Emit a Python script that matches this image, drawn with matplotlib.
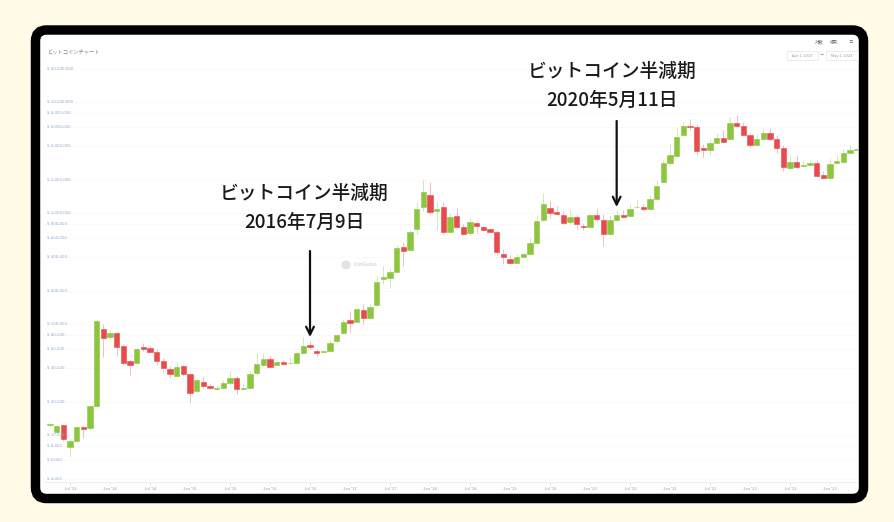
import numpy as np
import pandas as pd
import matplotlib
matplotlib.use("Agg")
import matplotlib.pyplot as plt
from matplotlib.patches import FancyBboxPatch, Circle
from matplotlib.ticker import NullLocator

plt.rcParams['font.family'] = ['Noto Sans CJK JP', 'DejaVu Sans']

# Monthly BTC/JPY candles, Apr 2013 - May 2023
months = pd.date_range("2013-04-01", periods=122, freq="MS")

opens = [12400, 10710, 12300, 7850, 8890, 11880, 11480, 18250, 89600, 76900,
         82400, 63400, 46400, 44260, 61650, 60400, 56300, 46400, 39100, 34030,
         41860, 35460, 25060, 30200, 27630, 26000, 26330, 29580, 32420, 25960,
         26330, 36400, 42740, 48400, 42740, 45500, 44260, 44850, 55200, 64700,
         57100, 55500, 57500, 70800, 82400, 108700, 105000, 133700, 112500, 148300,
         254300, 257800, 296000, 497500, 464000, 712900, 1140000, 1453000, 1049000, 1125000,
         679000, 940000, 753000, 654000, 807000, 743000, 713000, 679000, 427000, 383000,
         357000, 399000, 427000, 540000, 865000, 1102000, 1028000, 960000, 835000, 927000,
         769000, 753000, 960000, 865000, 647000, 865000, 960000, 940000, 1125000, 1140000,
         1080000, 1328000, 1915000, 2799000, 3264000, 5050000, 6081000, 5912000, 3828000, 3697000,
         4306000, 4776000, 4613000, 6513000, 6081000, 5050000, 4100000, 4613000, 5222000, 4613000,
         3828000, 2522000, 2898000, 2667000, 2705000, 2838000, 2199000, 2052000, 2799000, 2898000,
         3494000, 3697000]

closes = [12560, 12050, 9150, 8890, 11880, 11400, 18250, 107000, 74300, 82400,
          62500, 44850, 42740, 59100, 59930, 56300, 46740, 39900, 35460, 41270,
          35460, 24060, 31280, 27630, 26330, 26500, 29580, 32420, 25960, 26400,
          35240, 43330, 48080, 41270, 45800, 43950, 44850, 54450, 63400, 61650,
          55200, 57000, 67900, 79600, 105000, 102800, 135600, 112500, 141300, 240600,
          263300, 292000, 487300, 458000, 679000, 1087000, 1557000, 1028000, 1080000, 679000,
          926000, 753000, 647000, 835000, 764000, 703000, 679000, 448000, 399000, 357000,
          399000, 427000, 540000, 853000, 1205000, 993000, 979000, 818000, 927000, 796000,
          753000, 960000, 877000, 647000, 865000, 960000, 927000, 1080000, 1140000, 1080000,
          1328000, 1749000, 2799000, 3336000, 4808000, 6081000, 5912000, 3641000, 3697000, 4306000,
          4776000, 4395000, 6513000, 6081000, 5050000, 4100000, 4613000, 5294000, 4613000, 3828000,
          2578000, 2898000, 2578000, 2705000, 2838000, 2155000, 2052000, 2762000, 2959000, 3452000,
          3697000, 3760000]

highs = [12900, 12300, 12500, 9300, 12100, 12100, 18600, 110000, 101000, 88000,
         84000, 66000, 48500, 61000, 67000, 63000, 60000, 49000, 42000, 45000,
         43000, 36500, 32500, 34000, 29500, 28000, 31000, 38000, 34000, 29000,
         38000, 55000, 55000, 51000, 47500, 47000, 50500, 57000, 76000, 70000,
         60000, 58500, 70000, 82000, 110000, 130000, 140000, 150000, 150000, 270000,
         330000, 320000, 510000, 550000, 700000, 1250000, 1983000, 1915000, 1250000, 1250000,
         1000000, 1100000, 790000, 900000, 850000, 770000, 740000, 700000, 470000, 420000,
         430000, 440000, 600000, 950000, 1500000, 1300000, 1150000, 1050000, 1070000, 960000,
         810000, 1000000, 1120000, 980000, 960000, 1060000, 1060000, 1200000, 1310000, 1200000,
         1440000, 2000000, 3000000, 4300000, 6000000, 6600000, 7000000, 6300000, 4200000, 4500000,
         5300000, 5600000, 7300000, 7600000, 6600000, 5300000, 5200000, 5800000, 5800000, 5000000,
         4100000, 3300000, 3300000, 3000000, 3000000, 3000000, 2400000, 3100000, 3300000, 3800000,
         4100000, 3800000]

lows = [12100, 10400, 8900, 6380, 8700, 9340, 11200, 18000, 50800, 74000,
        52600, 43000, 34750, 43500, 57000, 55000, 43000, 37000, 32500, 33000,
        34000, 19290, 24500, 26500, 25800, 25500, 26000, 29000, 23500, 25500,
        25800, 35000, 42000, 40000, 41500, 43000, 43500, 44000, 54000, 60000,
        51000, 54500, 57000, 69000, 81000, 85000, 104000, 100000, 111000, 146000,
        230000, 210000, 290000, 330000, 460000, 650000, 1050000, 980000, 700000, 650000,
        660000, 730000, 630000, 640000, 660000, 690000, 670000, 420000, 350000, 350000,
        350000, 395000, 420000, 530000, 850000, 900000, 950000, 800000, 800000, 720000,
        700000, 750000, 850000, 504000, 640000, 850000, 900000, 930000, 1100000, 1050000,
        1070000, 1320000, 1850000, 2700000, 3200000, 4900000, 5600000, 3300000, 3200000, 3300000,
        4300000, 4300000, 4600000, 6000000, 4900000, 3900000, 4000000, 4500000, 4500000, 3500000,
        2400000, 2450000, 2550000, 2600000, 2650000, 2100000, 2020000, 2040000, 2750000, 2850000,
        3450000, 3650000]

y_ticks = [4000, 6000, 8000, 10000, 20000, 40000, 60000, 80000, 100000,
           200000, 400000, 600000, 800000, 1000000, 2000000, 4000000,
           6000000, 8000000, 10000000, 20000000]

halvings = [("2016-07-01", "ビットコイン半減期", "2016年7月9日"),
            ("2020-05-01", "ビットコイン半減期", "2020年5月11日")]

GREEN = "#8cc63f"
RED = "#e84a4d"

# ---- layout helpers (pixel -> figure) ----
W, H = 894, 522
fig = plt.figure(figsize=(W / 100, H / 100), dpi=100)
fig.patch.set_facecolor("#fffbe6")

def fx(x):
    return x / W

def fy(y):
    return 1 - y / H

# black rounded frame with white panel
frame = FancyBboxPatch((35.5 / 100, (H - 498.5) / 100), (863.5 - 35.5) / 100, (498.5 - 30) / 100,
                       boxstyle="round,pad=0,rounding_size=0.11",
                       transform=fig.dpi_scale_trans, facecolor="white",
                       edgecolor="black", linewidth=6.8, zorder=-5)
fig.add_artist(frame)

ax = fig.add_axes([fx(44), fy(482), fx(858) - fx(44), fy(40) - fy(482)])
ax.set_facecolor("none")

x = np.arange(len(months))
o = np.array(opens, dtype=float)
c = np.array(closes, dtype=float)
hi = np.array(highs, dtype=float)
lo = np.array(lows, dtype=float)
up = c >= o
cols = np.where(up, GREEN, RED)
wick_cols = np.where(up, "#d3e8b6", "#f5bcbd")

ax.vlines(x, lo, hi, colors=wick_cols, linewidth=0.7, zorder=2)
ax.bar(x, np.abs(c - o), bottom=np.minimum(o, c), width=0.82,
       color=cols, edgecolor=cols, linewidth=0.4, zorder=3)

ax.set_yscale("log")
ax.set_xlim(-0.9, 121.2)
ax.set_ylim(10 ** (6 + (213 - 482) / 111), 10 ** (6 + (213 - 40) / 111))

# y grid + labels inside plot
ax.set_yticks(y_ticks)
ax.yaxis.set_minor_locator(NullLocator())
ax.tick_params(axis="y", length=0, labelleft=False)
ax.grid(axis="y", color="#f7f7f7", linewidth=0.5, zorder=0)
for v in y_ticks:
    ax.text(0.004, v, "¥ {:,}".format(v), transform=ax.get_yaxis_transform(),
            fontsize=2.8, color="#93acd0", va="center", ha="left", family="DejaVu Sans")

# x ticks at Jan / Jul
tick_pos = [i for i, m in enumerate(months) if m.month in (1, 7)]
tick_lab = [m.strftime("%b '%y") for m in months if m.month in (1, 7)]
ax.set_xticks(tick_pos)
ax.set_xticklabels(tick_lab)
ax.tick_params(axis="x", length=2, width=0.4, color="#d0d0d0", pad=1.5,
               labelsize=3, labelcolor="#999999")
for s in ["top", "right", "left"]:
    ax.spines[s].set_visible(False)
ax.spines["bottom"].set_color("#e6e6e6")
ax.spines["bottom"].set_linewidth(0.5)

# halving annotations
text_x = [304, 612]
text_y = [193, 71]
for (d, l1, l2), tx, ty in zip(halvings, text_x, text_y):
    i = months.get_loc(pd.Timestamp(d))
    tip = max(opens[i], closes[i]) * 1.18
    ax.annotate("", xy=(i, tip), xytext=(i, tip * 10 ** (86 / 111)),
                arrowprops=dict(arrowstyle="->", lw=1.6, color="#111111",
                                shrinkA=0, shrinkB=0, mutation_scale=14), zorder=5)
    fig.text(fx(tx), fy(ty), l1, fontsize=13.5, fontweight="medium", color="#1a1a1a",
             ha="center", va="center")
    fig.text(fx(tx), fy(ty + 29), l2, fontsize=13.5, fontweight="medium", color="#1a1a1a",
             ha="center", va="center")

# chart chrome: title, controls, watermark
fig.text(fx(47), fy(53), "ビットコインチャート", fontsize=3.8, color="#888888", va="center")
for lab, px in [("対数", 819), ("線形", 834), ("≡", 851)]:
    fig.text(fx(px), fy(42), lab, fontsize=3.2, color="#666666", ha="center", va="center")
for lab, px0, px1 in [("Apr 1, 2013", 787, 818), ("May 1, 2023", 826, 858)]:
    fig.add_artist(FancyBboxPatch((px0 / 100, (H - 60) / 100), (px1 - px0) / 100, 9 / 100,
                                  boxstyle="square,pad=0", transform=fig.dpi_scale_trans,
                                  facecolor="white", edgecolor="#dddddd", linewidth=0.4))
    fig.text(fx((px0 + px1) / 2), fy(55.5), lab, fontsize=2.8, color="#999999",
             ha="center", va="center")
fig.text(fx(822), fy(55.5), "→", fontsize=2.8, color="#999999", ha="center", va="center")

fig.add_artist(Circle((346 / 100, (H - 265) / 100), 0.045, transform=fig.dpi_scale_trans,
                      facecolor="#e3e3e3", edgecolor="none"))
fig.text(fx(354), fy(265), "CoinGecko", fontsize=3.4, color="#c4c4c4", va="center")

fig.savefig("out.png", dpi=100, facecolor=fig.get_facecolor())
